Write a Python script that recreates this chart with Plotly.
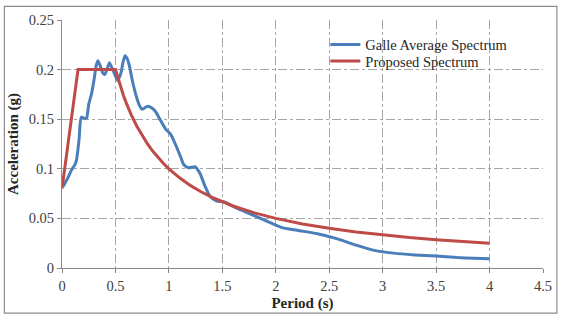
import plotly.graph_objects as go

# Galle average response spectrum (period in s, acceleration in g)
galle_period = [0.01, 0.03, 0.06, 0.09, 0.12, 0.136, 0.16, 0.18, 0.21, 0.23, 0.25, 0.275, 0.30,
                0.32, 0.336, 0.36, 0.38, 0.40, 0.42, 0.444, 0.47, 0.49, 0.52, 0.55, 0.57, 0.59,
                0.61, 0.63, 0.66, 0.69, 0.72, 0.75, 0.80, 0.845, 0.88, 0.91, 0.97, 1.016, 1.06,
                1.11, 1.14, 1.185, 1.247, 1.29, 1.34, 1.386, 1.447, 1.52, 1.62, 1.77, 1.9, 2.05,
                2.2, 2.39, 2.57, 2.75, 2.91, 3.1, 3.3, 3.5, 3.7, 3.85, 4.0]
galle_accel = [0.082, 0.086, 0.092, 0.099, 0.104, 0.109, 0.13, 0.152, 0.151, 0.151, 0.165, 0.175, 0.19,
               0.204, 0.209, 0.203, 0.197, 0.195, 0.200, 0.207, 0.201, 0.196, 0.189, 0.196, 0.207, 0.214,
               0.211, 0.204, 0.188, 0.175, 0.165, 0.160, 0.163, 0.161, 0.157, 0.151, 0.140, 0.135, 0.125,
               0.112, 0.104, 0.101, 0.102, 0.0955, 0.082, 0.072, 0.0675, 0.0665, 0.061, 0.054, 0.048, 0.041,
               0.038, 0.0346, 0.0296, 0.023, 0.018, 0.015, 0.0132, 0.012, 0.0105, 0.0098, 0.0092]

# Proposed design spectrum: ramp, plateau, then decaying branch
proposed_period = [0.0, 0.15, 0.5, 0.525, 0.55, 0.575, 0.6, 0.65, 0.7, 0.75, 0.8, 0.85, 0.9, 0.95,
                   1.0, 1.1, 1.2, 1.3, 1.4, 1.5, 1.6, 1.8, 2.0, 2.25, 2.5, 2.75, 3.0, 3.25, 3.5,
                   3.75, 4.0]
proposed_accel = [0.08, 0.2, 0.2, 0.1905, 0.1818, 0.1739, 0.1667, 0.1538, 0.1429, 0.1333, 0.125,
                  0.1176, 0.1111, 0.1053, 0.1, 0.0909, 0.0833, 0.0769, 0.0714, 0.0667, 0.0625,
                  0.0556, 0.05, 0.0444, 0.04, 0.0364, 0.0333, 0.0308, 0.0286, 0.0267, 0.025]

x_ticks = [0, 0.5, 1, 1.5, 2, 2.5, 3, 3.5, 4, 4.5]
x_tick_text = ["0", "0.5", "1", "1.5", "2", "2.5", "3", "3.5", "4", "4.5"]
y_ticks = [0, 0.05, 0.1, 0.15, 0.2, 0.25]
y_tick_text = ["0", "0.05", "0.1", "0.15", "0.2", "0.25"]

FONT = "Liberation Serif"

L, R, T, B = 62, 18, 17, 50
W, H = 564, 320
pw, ph = W - L - R, H - T - B


def py_to_paper(py):
    return (H - B - py) / ph


def px_to_paper(px):
    return (px - L) / pw


fig = go.Figure()
fig.add_trace(go.Scatter(x=galle_period, y=galle_accel, mode="lines",
                         name="Galle Average Spectrum", legend="legend",
                         line=dict(color="#4A7EBB", width=3, shape="spline", smoothing=0.6)))
fig.add_trace(go.Scatter(x=proposed_period, y=proposed_accel, mode="lines",
                         name="Proposed Spectrum", legend="legend2",
                         line=dict(color="#BE4B48", width=3, shape="linear")))

# outer chart frame
fig.add_shape(type="rect", xref="paper", yref="paper",
              x0=px_to_paper(4), x1=px_to_paper(560),
              y0=py_to_paper(316), y1=py_to_paper(3),
              line=dict(color="#8C8C8C", width=1.2), layer="below")

axis_common = dict(
    showgrid=True, gridcolor="#A6A6A6", gridwidth=1, griddash="dashdot",
    showline=True, linecolor="#878787", linewidth=1.2,
    ticks="outside", ticklen=4, tickcolor="#878787",
    zeroline=False,
    tickfont=dict(family=FONT, size=14.5, color="#404040"),
)

fig.update_xaxes(range=[0, 4.5], tickvals=x_ticks, ticktext=x_tick_text,
                 title=dict(text="<b>Period (s)</b>", font=dict(family=FONT, size=15, color="#262626"),
                            standoff=4),
                 **axis_common)
fig.update_yaxes(range=[0, 0.25], tickvals=y_ticks, ticktext=y_tick_text,
                 title=dict(text="<b>Acceleration (g)</b>", font=dict(family=FONT, size=15, color="#262626"),
                            standoff=6),
                 **axis_common)

legend_common = dict(xanchor="left", yanchor="middle", bgcolor="rgba(0,0,0,0)", borderwidth=0,
                     font=dict(family=FONT, size=14.5, color="#262626"), itemwidth=30)

fig.update_layout(
    width=W, height=H,
    margin=dict(l=L, r=R, t=T, b=B),
    paper_bgcolor="white", plot_bgcolor="white",
    showlegend=True,
    legend=dict(x=px_to_paper(327), y=py_to_paper(42), **legend_common),
    legend2=dict(x=px_to_paper(327), y=py_to_paper(59), **legend_common),
)

fig.write_html("out.html")
